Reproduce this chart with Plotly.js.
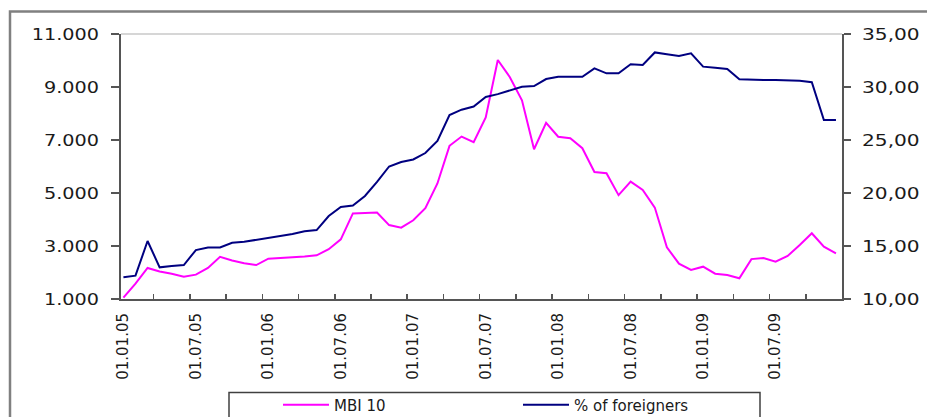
<!DOCTYPE html>
<html><head><meta charset="utf-8">
<script src="https://cdn.plot.ly/plotly-3.0.1.min.js"></script>
<style>html,body{margin:0;padding:0;background:#fff}#chart{width:927px;height:417px}</style>
</head><body><div id="chart"></div>
<script>
// Tick labels of the category axis (every 6 months, monthly data Jan 2005 - Dec 2009)
const tickLabels = ["01.01.05","01.07.05","01.01.06","01.07.06","01.01.07","01.07.07","01.01.08","01.07.08","01.01.09","01.07.09"];
const labelMonthIndex = [0,6,12,18,24,30,36,42,48,54];

// MBI 10 index (left axis)
const mbi10 = [1050,1580,2170,2040,1950,1840,1920,2170,2590,2450,
               2350,2280,2520,2540,2585,2600,2650,2880,3250,4230,
               4245,4265,3790,3690,3970,4430,5360,6780,7130,6920,
               7850,10020,9370,8500,6650,7650,7125,7065,6690,5790,
               5745,4920,5430,5115,4450,2950,2335,2095,2220,1955,
               1905,1780,2505,2545,2410,2625,3040,3480,2975,2725];

// % of foreigners (right axis)
const foreigners = [12.05,12.2,15.47,12.99,13.11,13.2,14.62,14.86,14.86,15.31,
                    15.4,15.57,15.8,15.94,16.13,16.4,16.5,17.83,18.68,18.82,
                    19.72,21.04,22.5,22.92,23.16,23.77,24.91,27.36,27.86,28.16,
                    29.06,29.33,29.69,30.03,30.09,30.75,30.97,30.97,30.97,31.76,
                    31.29,31.29,32.14,32.07,33.26,33.08,32.92,33.18,31.92,31.82,
                    31.7,30.73,30.66,30.66,30.66,30.66,30.6,30.45,26.89,26.89];

const leftTicks = [1000,3000,5000,7000,9000,11000];
const rightTicks = [10,15,20,25,30,35];

const monthIdx = mbi10.map((_, i) => i);
const quarterTicks = [];
for (let k = 2.5; k < 59; k += 3) quarterTicks.push(k);

// layout geometry (pixels)
const W = 927, H = 417, L = 121, R = 842, T = 34, B = 299;
const px = v => (v - L) / (R - L);
const py = v => (B - v) / (B - T);

const axisColor = '#555555';
const tickFont = {family: 'DejaVu Sans, Arial, sans-serif', size: 16, color: '#1a1a1a'};

const traces = [
  {x: monthIdx, y: mbi10, name: 'MBI 10', type: 'scatter', mode: 'lines',
   line: {color: '#ff00ff', width: 2}, xaxis: 'x', yaxis: 'y'},
  {x: monthIdx, y: foreigners, name: '% of foreigners', type: 'scatter', mode: 'lines',
   line: {color: '#000080', width: 2}, xaxis: 'x', yaxis: 'y2'}
];

const layout = {
  width: W, height: H,
  margin: {l: L, r: W - R, t: T, b: H - B, pad: 0, autoexpand: false},
  paper_bgcolor: '#ffffff', plot_bgcolor: '#ffffff',
  separators: ',.',
  showlegend: true,
  legend: {orientation: 'h', x: px(278), y: py(405), xanchor: 'left', yanchor: 'middle',
           bgcolor: 'rgba(0,0,0,0)', borderwidth: 0, itemwidth: 46,
           font: {family: 'DejaVu Sans, Arial, sans-serif', size: 15, color: '#1a1a1a'},
           entrywidth: 179, entrywidthmode: 'pixels'},
  xaxis: {range: [-0.2, 59.5], tickmode: 'array', tickvals: labelMonthIndex, ticktext: tickLabels,
          tickangle: -90, ticks: '', showgrid: false, zeroline: false,
          showline: true, linecolor: axisColor, linewidth: 2,
          tickfont: {family: 'DejaVu Sans, Arial, sans-serif', size: 15, color: '#1a1a1a'},
          ticklabelstandoff: 6,
          minor: {tickmode: 'array', tickvals: quarterTicks, ticks: 'inside', ticklen: 5, tickwidth: 1.5, tickcolor: axisColor, showgrid: false}},
  yaxis: {range: [1000, 11000], tickmode: 'array', tickvals: leftTicks, tickformat: ',.0f',
          ticks: 'outside', ticklen: 8, tickwidth: 1.5, tickcolor: axisColor,
          showline: true, linecolor: axisColor, linewidth: 2, showgrid: false, zeroline: false,
          tickfont: tickFont},
  yaxis2: {range: [10, 35], tickmode: 'array', tickvals: rightTicks, tickformat: '.2f',
           overlaying: 'y', side: 'right', anchor: 'x',
           ticks: 'outside', ticklen: 7, tickwidth: 1.5, tickcolor: axisColor,
           showline: true, linecolor: axisColor, linewidth: 2, showgrid: false, zeroline: false,
           tickfont: tickFont},
  yaxis3: {range: [1000, 11000], tickmode: 'array', tickvals: leftTicks, overlaying: 'y', side: 'left', anchor: 'x',
           ticks: 'inside', ticklen: 6, tickwidth: 1.5, tickcolor: axisColor, showticklabels: false,
           showline: false, showgrid: false, zeroline: false},
  yaxis4: {range: [10, 35], tickmode: 'array', tickvals: rightTicks, overlaying: 'y', side: 'right', anchor: 'x',
           ticks: 'inside', ticklen: 6, tickwidth: 1.5, tickcolor: axisColor, showticklabels: false,
           showline: false, showgrid: false, zeroline: false},
  shapes: [
    {type: 'rect', xref: 'paper', yref: 'paper', x0: px(10), x1: px(940), y0: py(11.5), y1: py(440),
     line: {color: '#808080', width: 2.5}, fillcolor: 'rgba(0,0,0,0)', layer: 'below'},
    {type: 'line', xref: 'paper', yref: 'paper', x0: 0, x1: 1, y0: 1, y1: 1,
     line: {color: '#c8c8c8', width: 1.5}, layer: 'below'},
    {type: 'rect', xref: 'paper', yref: 'paper', x0: px(229), x1: px(760), y0: py(392.5), y1: py(440),
     line: {color: '#404040', width: 1.5}, fillcolor: 'rgba(0,0,0,0)'}
  ]
};

Plotly.newPlot('chart', traces, layout, {staticPlot: true, displayModeBar: false}).then(gd => {
  // the reference's value labels are drawn horizontally widened; stretch the real text to match
  // and align them to the reference's label edges (left labels end at x=99, right ones start at x=862)
  const svgLeft = gd.getBoundingClientRect().left;
  const mid = (L + R) / 2;
  gd.querySelectorAll('g.ytick text, g.y2tick text').forEach(t => {
    if (!t.textContent) return;
    const r0 = t.getBoundingClientRect();
    if (r0.width === 0) return;
    const isRight = (r0.left + r0.right) / 2 - svgLeft > mid;
    const w = t.getComputedTextLength();
    t.setAttribute('textLength', (w * (isRight ? 1.26 : 1.2)).toFixed(1));
    t.setAttribute('lengthAdjust', 'spacingAndGlyphs');
    const r = t.getBoundingClientRect();
    const cur = isRight ? r.left - svgLeft : r.right - svgLeft;
    const target = isRight ? 862 : 99;
    const x0 = parseFloat(t.getAttribute('x')) || 0;
    t.setAttribute('x', (x0 + target - cur).toFixed(1));
  });
});
</script>
</body></html>
